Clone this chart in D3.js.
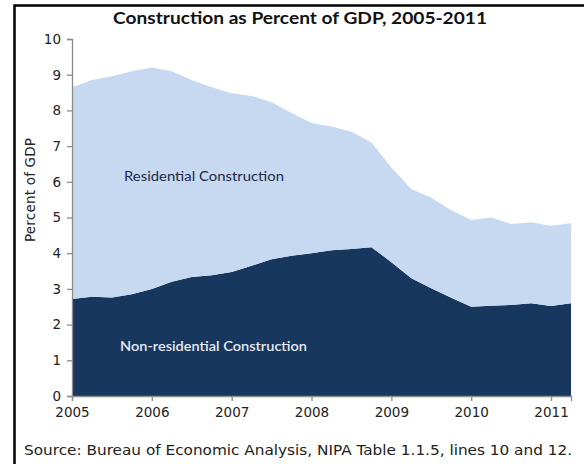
<!DOCTYPE html>
<html>
<head>
<meta charset="utf-8">
<script src="https://cdn.jsdelivr.net/npm/d3@7"></script>
<style>
  body { margin: 0; background: #fff; }
  svg { display: block; }
</style>
</head>
<body>
<svg id="chart" width="584" height="464"></svg>
<script>
// quarterly, 2005Q1 .. 2011Q2
const quarters = d3.range(26).map(i => 2005 + i * 0.25);
const nonResidential = [2.72, 2.78, 2.76, 2.85, 3.0, 3.2, 3.33, 3.38, 3.47, 3.65, 3.83, 3.93, 4.0,
  4.08, 4.12, 4.17, 3.75, 3.3, 3.02, 2.75, 2.5, 2.53, 2.55, 2.6, 2.52, 2.6];
const residential = [5.93, 6.07, 6.2, 6.25, 6.2, 5.9, 5.52, 5.27, 5.01, 4.75, 4.4, 4.0, 3.65,
  3.47, 3.28, 2.93, 2.65, 2.5, 2.53, 2.45, 2.43, 2.47, 2.27, 2.27, 2.25, 2.24];
const yearTicks = [2005, 2006, 2007, 2008, 2009, 2010, 2011];
const yTicks = d3.range(0, 11);

const svg = d3.select("#chart");

const x = d3.scaleLinear().domain([2005, 2011.25]).range([72, 571]);
const y = d3.scaleLinear().domain([0, 10]).range([396, 39]);

// frame (cut off on right and bottom as in the original)
svg.append("path")
  .attr("d", "M14.5,470 L14.5,5.5 L590,5.5")
  .attr("fill", "none")
  .attr("stroke", "#000")
  .attr("stroke-width", 2.5);

const rows = quarters.map((q, i) => ({ q, nonres: nonResidential[i], res: residential[i] }));
const layers = d3.stack().keys(["nonres", "res"])(rows);
const colors = { nonres: "#17375e", res: "#c6d9f1" };

const area = d3.area()
  .x(d => x(d.data.q))
  .y0(d => y(d[0]))
  .y1(d => y(d[1]));

svg.append("g")
  .selectAll("path")
  .data(layers)
  .join("path")
    .attr("d", area)
    .attr("fill", d => colors[d.key]);

// axes
const yAxis = d3.axisLeft(y).tickValues(yTicks).tickSize(5).tickPadding(6);
const gy = svg.append("g")
  .attr("transform", `translate(${x(2005)},0)`)
  .call(yAxis);

const xAxis = d3.axisBottom(x).tickValues(yearTicks).tickFormat(d3.format("d")).tickSize(5).tickPadding(6);
const gx = svg.append("g")
  .attr("transform", `translate(0,${y(0)})`)
  .call(xAxis);

[gx, gy].forEach(g => {
  g.select(".domain").attr("stroke", "#8c8c8c").attr("stroke-width", 1.3);
  g.selectAll(".tick line").attr("stroke", "#8c8c8c").attr("stroke-width", 1.3);
  g.selectAll(".tick text")
    .attr("fill", "#222")
    .style("font-family", "DejaVu Sans, Verdana, sans-serif")
    .style("font-size", "13.5px");
});
gy.select(".domain").attr("d", `M-5,${y(10) + 0.5}H0.5V${y(0) + 0.5}H-5`);

// helper for text fitted to the original's width
function label(xp, yp, str, w, size, opts = {}) {
  return svg.append("text")
    .attr("x", xp)
    .attr("y", yp)
    .attr("textLength", w)
    .attr("lengthAdjust", "spacingAndGlyphs")
    .style("font-family", opts.family || "Lato, sans-serif")
    .style("font-size", size + "px")
    .style("font-weight", opts.weight || "normal")
    .attr("fill", opts.fill || "#222")
    .text(str);
}

// title
label(113, 24, "Construction as Percent of GDP, 2005-2011", 374, 17, { weight: "bold", fill: "#111" });

// y label
svg.append("text")
  .attr("transform", "translate(35,190) rotate(-90)")
  .attr("text-anchor", "middle")
  .attr("textLength", 104)
  .style("font-family", "DejaVu Sans, Verdana, sans-serif")
  .style("font-size", "13.5px")
  .attr("fill", "#222")
  .text("Percent of GDP");

// series labels
label(124, 181, "Residential Construction", 160, 13.5, { fill: "#1f2a44" });
label(120, 351, "Non-residential Construction", 187, 13.5, { weight: "600", fill: "#e6e8f2" });

// source
label(24, 455, "Source: Bureau of Economic Analysis, NIPA Table 1.1.5, lines 10 and 12.", 548, 14,
  { family: "DejaVu Sans, Verdana, sans-serif" });
</script>
</body>
</html>
